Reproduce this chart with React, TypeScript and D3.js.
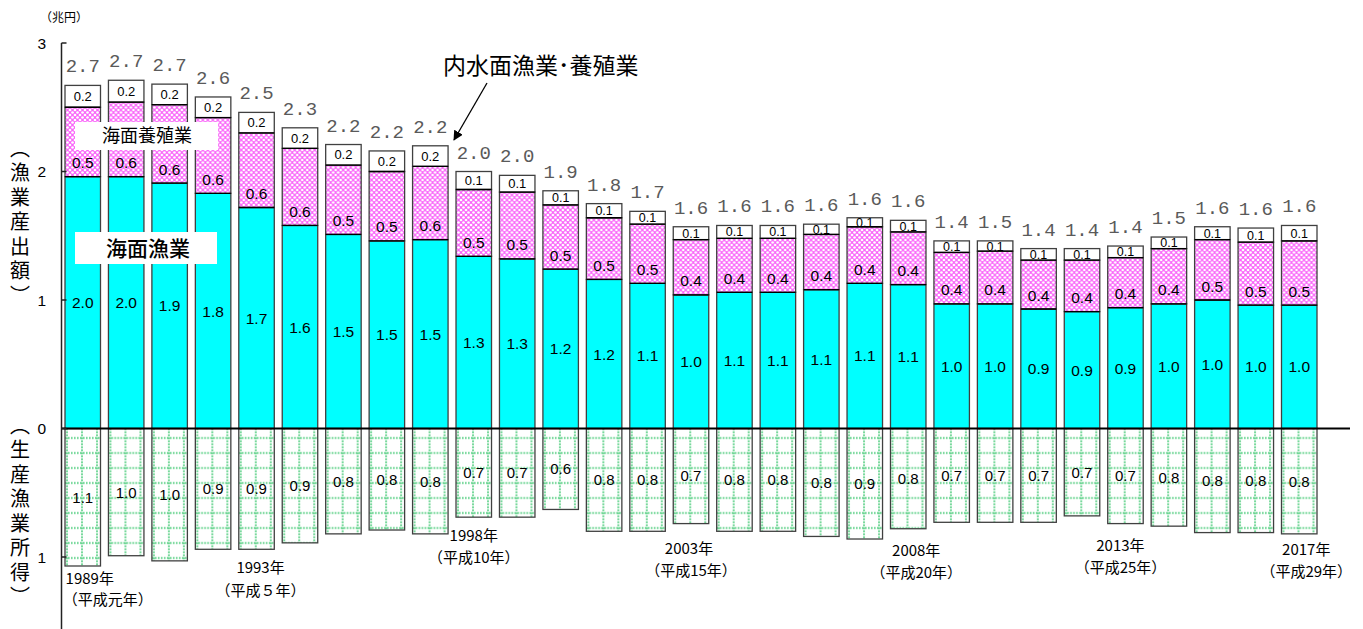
import React from "react";
import * as d3 from "d3";

// ---- data (兆円) ----
const years = [1989, 1990, 1991, 1992, 1993, 1994, 1995, 1996, 1997, 1998, 1999, 2000, 2001, 2002, 2003, 2004, 2005, 2006, 2007, 2008, 2009, 2010, 2011, 2012, 2013, 2014, 2015, 2016, 2017];
const seaFishing = [1.96, 1.96, 1.91, 1.83, 1.72, 1.58, 1.51, 1.46, 1.47, 1.34, 1.32, 1.24, 1.16, 1.13, 1.04, 1.06, 1.06, 1.08, 1.13, 1.12, 0.97, 0.97, 0.93, 0.91, 0.94, 0.97, 1.0, 0.96, 0.96];
const seaAquaculture = [0.54, 0.58, 0.61, 0.59, 0.58, 0.6, 0.54, 0.54, 0.57, 0.52, 0.52, 0.5, 0.48, 0.46, 0.43, 0.42, 0.42, 0.43, 0.44, 0.41, 0.4, 0.41, 0.38, 0.4, 0.39, 0.43, 0.47, 0.49, 0.5];
const inland = [0.17, 0.17, 0.16, 0.16, 0.16, 0.16, 0.16, 0.16, 0.16, 0.14, 0.13, 0.11, 0.11, 0.1, 0.1, 0.1, 0.1, 0.08, 0.07, 0.09, 0.09, 0.08, 0.09, 0.09, 0.09, 0.09, 0.1, 0.11, 0.12];
const totals = [2.7, 2.7, 2.7, 2.6, 2.5, 2.3, 2.2, 2.2, 2.2, 2.0, 2.0, 1.9, 1.8, 1.7, 1.6, 1.6, 1.6, 1.6, 1.6, 1.6, 1.4, 1.5, 1.4, 1.4, 1.4, 1.5, 1.6, 1.6, 1.6];
const income = [1.07, 0.99, 1.03, 0.94, 0.94, 0.89, 0.82, 0.79, 0.82, 0.69, 0.69, 0.63, 0.8, 0.8, 0.74, 0.8, 0.8, 0.84, 0.86, 0.78, 0.73, 0.73, 0.73, 0.68, 0.74, 0.76, 0.81, 0.81, 0.82];
const upperTicks = [0, 1, 2, 3];
const lowerTicks = [1];
const yearNotes = [
  { year: 1989, line1: "1989年", line2: "（平成元年）" },
  { year: 1993, line1: "1993年", line2: "（平成５年）" },
  { year: 1998, line1: "1998年", line2: "（平成10年）" },
  { year: 2003, line1: "2003年", line2: "（平成15年）" },
  { year: 2008, line1: "2008年", line2: "（平成20年）" },
  { year: 2013, line1: "2013年", line2: "（平成25年）" },
  { year: 2017, line1: "2017年", line2: "（平成29年）" },
];
// layout of the year notes (offset from bar centre, baselines)
const noteLayout: Record<number, { dx1: number; dx2: number; y1: number; y2: number }> = {
  1989: { dx1: 7, dx2: 25, y1: 584, y2: 605 },
  1993: { dx1: 4, dx2: 4, y1: 573, y2: 596 },
  1998: { dx1: 0, dx2: 0, y1: 541, y2: 563 },
  2003: { dx1: -2, dx2: 0, y1: 554, y2: 576 },
  2008: { dx1: 8, dx2: 8, y1: 556, y2: 578 },
  2013: { dx1: -5, dx2: -5, y1: 551, y2: 573 },
  2017: { dx1: 7, dx2: 7, y1: 555, y2: 577 },
};

const JP = "'Noto Sans CJK JP', 'Noto Sans', sans-serif";
const AR = "'Liberation Sans', Arial, sans-serif";

export default function App() {
  const W = 1363;
  const H = 629;
  const x = d3.scaleBand<number>().domain(years).range([65, 1317]).paddingInner(0.183).paddingOuter(0);
  const y = d3.scaleLinear().domain([0, 3]).range([428.5, 43]);
  const yb = d3.scaleLinear().domain([0, 1]).range([428.5, 557]);
  const bw = x.bandwidth();
  const fmt = d3.format(".1f");
  const axisX = 61.5;
  const zeroY = y(0);
  const stroke = "#404040";

  return (
    <svg width={W} height={H} style={{ position: "absolute", left: 0, top: 0, background: "#fff" }}>
      <defs>
        <pattern id="pinkPat" width={5} height={5} patternUnits="userSpaceOnUse">
          <rect width={5} height={5} fill="#fa66fa" />
          <circle cx={0} cy={0} r={1.35} fill="#fff" />
          <circle cx={5} cy={0} r={1.35} fill="#fff" />
          <circle cx={0} cy={5} r={1.35} fill="#fff" />
          <circle cx={5} cy={5} r={1.35} fill="#fff" />
          <circle cx={2.5} cy={2.5} r={1.35} fill="#fff" />
        </pattern>
        <pattern id="greenPat" width={15} height={15} y={zeroY} patternUnits="userSpaceOnUse">
          <rect width={15} height={15} fill="#fff" />
          <line x1={2} x2={2} y1={0} y2={15} stroke="#2fc466" strokeWidth={1.7} strokeDasharray="1.6,1.4" />
          <line x1={0} x2={15} y1={9.5} y2={9.5} stroke="#2fc466" strokeWidth={1.7} strokeDasharray="1.6,1.4" />
        </pattern>
        <marker id="arrow" viewBox="0 0 10 10" refX={9} refY={5} markerWidth={10} markerHeight={10} orient="auto" markerUnits="userSpaceOnUse">
          <path d="M0,0 L10,5 L0,10 z" fill="#000" />
        </marker>
      </defs>

      {/* bars */}
      {years.map((yr, i) => {
        const x0 = x(yr)!;
        const s = seaFishing[i];
        const a = seaAquaculture[i];
        const n = inland[i];
        const yS = y(s);
        const yA = y(s + a);
        const yN = y(s + a + n);
        const yI = yb(income[i]);
        const cx = bw / 2;
        return (
          <g key={yr} transform={`translate(${x0},0)`}>
            <rect x={0} y={zeroY} width={bw} height={yI - zeroY} fill="url(#greenPat)" stroke={stroke} strokeWidth={1.3} />
            <rect x={0} y={yS} width={bw} height={zeroY - yS} fill="#00ffff" stroke={stroke} strokeWidth={1.3} />
            <rect x={0} y={yA} width={bw} height={yS - yA} fill="url(#pinkPat)" stroke={stroke} strokeWidth={1.3} />
            <rect x={0} y={yN} width={bw} height={yA - yN} fill="#fff" stroke={stroke} strokeWidth={1.3} />
            <line x1={0} x2={bw} y1={yS} y2={yS} stroke="#000" strokeWidth={1.3} />
            <line x1={0} x2={bw} y1={yA} y2={yA} stroke="#000" strokeWidth={1.3} />

            <text x={cx} y={(yS + zeroY) / 2} dy="0.36em" textAnchor="middle" fontFamily={AR} fontSize={15.5} fill="#000">{fmt(s)}</text>
            <text x={cx} y={yS - 14} dy="0.36em" textAnchor="middle" fontFamily={AR} fontSize={15.5} fill="#000">{fmt(a)}</text>
            <text x={cx} y={(yN + yA) / 2} dy="0.36em" textAnchor="middle" fontFamily={AR} fontSize={n > 0.12 ? 13 : 12.5} fill="#000">{fmt(n)}</text>
            <text x={cx} y={(zeroY + yI) / 2} dy="0.36em" textAnchor="middle" fontFamily={AR} fontSize={15} fill="#000">{fmt(income[i])}</text>
            <text x={cx} y={yN - 13} textAnchor="middle" fontFamily="'Liberation Mono', 'DejaVu Sans Mono', monospace" fontSize={19} fill="#5a5a5a">{fmt(totals[i])}</text>
          </g>
        );
      })}

      {/* zero line */}
      <line x1={axisX} x2={x.range()[1] + 33} y1={zeroY} y2={zeroY} stroke="#000" strokeWidth={2} />
      {/* y axis */}
      <line x1={axisX} x2={axisX} y1={y(3)} y2={H} stroke="#222" strokeWidth={1.5} />
      {upperTicks.map((t) => (
        <g key={"u" + t}>
          <line x1={axisX} x2={axisX + 5} y1={y(t)} y2={y(t)} stroke="#222" strokeWidth={1.5} />
          <text x={46} y={y(t)} dy="0.36em" textAnchor="end" fontFamily={AR} fontSize={15.5} fill="#000">{t}</text>
        </g>
      ))}
      {lowerTicks.map((t) => (
        <g key={"l" + t}>
          <line x1={axisX} x2={axisX + 5} y1={yb(t)} y2={yb(t)} stroke="#222" strokeWidth={1.5} />
          <text x={46} y={yb(t)} dy="0.36em" textAnchor="end" fontFamily={AR} fontSize={15.5} fill="#000">{t}</text>
        </g>
      ))}

      {/* unit */}
      <text x={40} y={22} fontFamily={JP} fontSize={12} fill="#000">（兆円）</text>

      {/* vertical axis titles */}
      <text x={20} y={224} textAnchor="middle" fontFamily={JP} fontSize={20} letterSpacing={4.5} style={{ writingMode: "vertical-rl" }} fill="#000">︵漁業産出額︶</text>
      <text x={20} y={513} textAnchor="middle" fontFamily={JP} fontSize={20} letterSpacing={4.5} style={{ writingMode: "vertical-rl" }} fill="#000">︵生産漁業所得︶</text>

      {/* legend labels */}
      <rect x={75} y={122} width={143} height={28} fill="#fff" />
      <text x={147} y={136} dy="0.36em" textAnchor="middle" fontFamily={JP} fontSize={18} fill="#000">海面養殖業</text>
      <rect x={75} y={232} width={142} height={32} fill="#fff" />
      <text x={148} y={248} dy="0.36em" textAnchor="middle" fontFamily={JP} fontSize={21} fontWeight={500} fill="#000">海面漁業</text>

      {/* inland annotation */}
      <text x={443} y={74} fontFamily={JP} fontSize={23} fill="#000">内水面漁業･養殖業</text>
      <line x1={487} y1={83} x2={454} y2={140} stroke="#000" strokeWidth={1.3} markerEnd="url(#arrow)" />

      {/* year notes */}
      {yearNotes.map((d) => {
        const c = x(d.year)! + bw / 2;
        const L = noteLayout[d.year];
        return (
          <g key={d.year}>
            <text x={c + L.dx1} y={L.y1} textAnchor="middle" fontFamily={JP} fontSize={15} fill="#000">{d.line1}</text>
            <text x={c + L.dx2} y={L.y2} textAnchor="middle" fontFamily={JP} fontSize={15} fill="#000">{d.line2}</text>
          </g>
        );
      })}
    </svg>
  );
}
